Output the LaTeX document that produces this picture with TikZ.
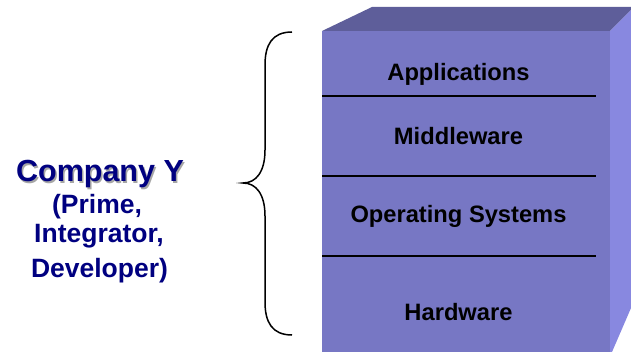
\documentclass[tikz,border=0pt]{standalone}
\usepackage{fontspec}
\setmainfont{Liberation Sans}
\definecolor{frontc}{RGB}{119,119,196}
\definecolor{topc}{RGB}{94,94,154}
\definecolor{sidec}{RGB}{136,136,224}
\definecolor{navy}{RGB}{0,0,128}
\begin{document}
\begin{tikzpicture}[x=1pt,y=-1pt,
  layer/.style={font=\fontsize{23.7}{26}\selectfont\bfseries, text=black, anchor=base, inner sep=0pt},
  lefttxt/.style={font=\fontsize{26.5}{30}\selectfont\bfseries, text=navy, anchor=base, inner sep=0pt},
  sep/.style={draw=black, line width=1.6pt},
  bracestyle/.style={draw=black, line width=1.5pt}]
\useasboundingbox (0,0) rectangle (631,352);
% box faces
\fill[frontc] (322,31) rectangle (610,352);
\fill[topc] (322,31) -- (372,7) -- (631,7) -- (631,10) -- (610,31) -- cycle;
\fill[sidec] (610,31) -- (631,10) -- (631,308) -- (612,352) -- (610,352) -- cycle;
% separators
\coordinate (s1l) at (322,96); \coordinate (s1r) at (596,96);
\coordinate (s2l) at (322,176); \coordinate (s2r) at (596,176);
\coordinate (s3l) at (322,256); \coordinate (s3r) at (596,256);
\draw[sep] (s1l) -- (s1r);
\draw[sep] (s2l) -- (s2r);
\draw[sep] (s3l) -- (s3r);
% layer labels
\node[layer] (app) at (458.5,81) {Applications};
\node[layer] (mid) at (458.5,145) {Middleware};
\node[layer] (os) at (458.5,223) {Operating Systems};
\node[layer] (hw) at (458.5,320) {Hardware};
% brace
\coordinate (btop) at (292,32);
\coordinate (btip) at (243,183);
\coordinate (bbot) at (292,335);
\draw[bracestyle] (btop) .. controls (272,32) and (265,45) .. (265,65) -- (265,150)
  .. controls (265,172) and (256,183) .. (btip)
  .. controls (256,183) and (265,194) .. (265,216) -- (265,302)
  .. controls (265,322) and (272,335) .. (bbot);
% left text
\node[lefttxt, text=black!35, font=\fontsize{30.5}{34}\selectfont\bfseries] at (101.5,183.5) {Company Y};
\node[lefttxt, font=\fontsize{30.5}{34}\selectfont\bfseries] (comp) at (100,182) {Company Y};
\node[lefttxt] (prime) at (97,214) {(Prime,};
\node[lefttxt] (integ) at (99,243) {Integrator,};
\node[lefttxt] (dev) at (99.5,278) {Developer)};
\end{tikzpicture}
\end{document}
